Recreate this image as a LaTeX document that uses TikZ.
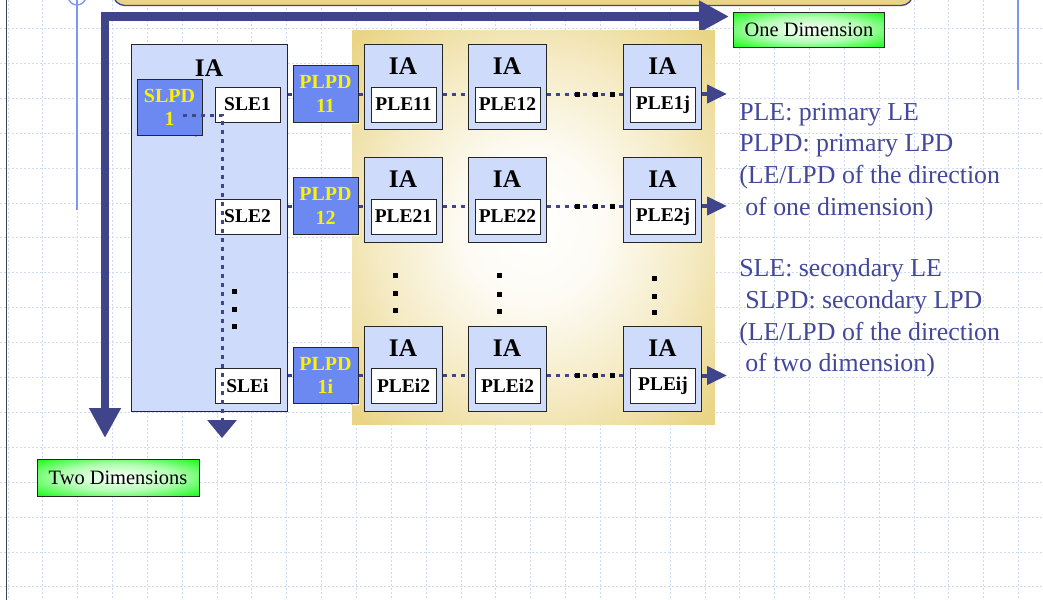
\documentclass[tikz,border=0pt]{standalone}
\usepackage{fontspec}
\setmainfont{Liberation Serif}
\usetikzlibrary{arrows.meta,calc}
\definecolor{lblue}{RGB}{206,219,250}
\definecolor{notefill}{RGB}{108,137,242}
\definecolor{notefold}{RGB}{150,172,246}
\definecolor{darkb}{RGB}{64,68,138}
\definecolor{tanc}{RGB}{234,213,134}
\definecolor{txtb}{RGB}{68,72,155}
\definecolor{gridc}{RGB}{205,218,248}
\definecolor{deco}{RGB}{125,150,240}
\definecolor{greenc}{RGB}{0,250,0}
\pgfdeclareradialshading{tanglow}{\pgfpoint{0bp}{0bp}}{color(0bp)=(white); color(10bp)=(white!90!tanc); color(22bp)=(white!50!tanc); color(34bp)=(tanc); color(50bp)=(tanc)}
\pgfdeclareradialshading{greenglow}{\pgfpoint{0bp}{0bp}}{color(0bp)=(white); color(18bp)=(white!70!greenc); color(38bp)=(greenc); color(50bp)=(greenc)}
\begin{document}
\begin{tikzpicture}[x=0.75pt,y=-0.75pt,
  box/.style={rectangle, draw=black!85, line width=0.75pt, inner sep=0pt},
  iabox/.style={box, fill=lblue, minimum width=58.5pt, minimum height=63.75pt},
  leaf/.style={box, fill=white, minimum width=48.75pt, minimum height=26.25pt, font=\bfseries\fontsize{14.6}{16}\selectfont},
  ialabel/.style={inner sep=0pt, font=\bfseries\fontsize{19}{21}\selectfont},
  note/.style={box, fill=notefill, text=yellow, align=center, minimum width=48.75pt, minimum height=42.5pt,
    font=\bfseries\fontsize{15}{17.5}\selectfont,
    append after command={\pgfextra{\begin{pgfinterruptpath}
      \fill[#1] ([xshift=0.7pt,yshift=5.6pt]\tikzlastnode.south east) -- ([xshift=0.7pt,yshift=-0.7pt]\tikzlastnode.south east) -- ([xshift=-5.6pt,yshift=-0.7pt]\tikzlastnode.south east) -- cycle;
      \filldraw[fill=notefold, draw=black!85, line width=0.6pt, line join=round] ([yshift=5pt]\tikzlastnode.south east) -- ([xshift=-5pt]\tikzlastnode.south east) -- ([xshift=-3.6pt,yshift=3.6pt]\tikzlastnode.south east) -- cycle;
    \end{pgfinterruptpath}}}},
  greenbox/.style={box, shade, shading=greenglow, font=\fontsize{15.3}{17}\selectfont},
  dotline/.style={draw=darkb, line width=2.25pt, dash pattern=on 3pt off 3.75pt},
  sidetext/.style={anchor=base west, inner sep=0pt, text=txtb, font=\fontsize{19.4}{23}\selectfont},
  gridline/.style={draw=gridc, line width=0.75pt, dash pattern=on 1.5pt off 1.5pt}
]
\useasboundingbox (0,0) rectangle (1043,600);
\clip (0,0) rectangle (1043,600);
\fill[white] (0,0) rectangle (1043,600);
% background grid
\foreach \k in {0,...,29} \draw[gridline] ({8+34.85*\k},0) -- ({8+34.85*\k},600);
\foreach \k in {0,...,16} \draw[gridline] (0,{28.5+34.9*\k}) -- (1043,{28.5+34.9*\k});
% decorations
\draw[black!75, line width=1.3pt] (6.5,0) -- (6.5,600);
\draw[deco, line width=1.3pt] (77,0) -- (77,210);
\draw[deco, line width=1pt] (77,-4) circle[radius=9];
\draw[deco, line width=2pt] (1018,0) -- (1018,90);
\draw[fill=tanc, draw=darkb, line width=1pt, rounded corners=9pt] (113,-30) rectangle (913,5.5);
% thick L arrow
\coordinate (ltip) at (105,438);
\coordinate (lcorner) at (105,16.5);
\coordinate (rtip) at (729,16.5);
\draw[darkb, line width=6.5pt, line join=miter, {Triangle[length=22.5pt,width=22.5pt]}-{Triangle[length=22.5pt,width=22.5pt]}] (ltip) -- (lcorner) -- (rtip);
\node[greenbox, minimum width=113.25pt, minimum height=26.25pt] (oned) at (809,29.5) {One Dimension};
\node[greenbox, minimum width=121.5pt, minimum height=27.75pt] (twod) at (118,477.5) {Two Dimensions};
% tan region
\shade[shading=tanglow] (352,30) rectangle (715,424);
% big IA
\node[box, fill=lblue, minimum width=117pt, minimum height=275.25pt] (bigia) at (209,227.5) {};
\node[ialabel] (bigial) at (209,68) {IA};
\node[note=lblue] (slpd) at (169.5,107.5) {SLPD\\1};
\node[leaf] (sle1) at (247.5,104.5) {SLE1};
\node[leaf] (sle2) at (247.5,216.5) {SLE2};
\node[leaf] (slei) at (247.5,386) {SLEi};
% PLPD notes
\node[note=white] (plpd11) at (325.5,94) {PLPD\\11};
\node[note=white] (plpd12) at (325.5,206) {PLPD\\12};
\node[note=white] (plpd1i) at (325.5,375.5) {PLPD\\1i};
% small IA boxes
\foreach \r/\ry in {1/86.5, 2/199.5, i/368.5}{
  \foreach \c/\cx in {1/403, 2/507, j/662.5}{
    \node[iabox] (ia\r\c) at (\cx,\ry) {};
    \node[ialabel] (ia\r\c l) at ([yshift=-17.25pt]ia\r\c.north) {IA};
  }
}
\node[leaf] (ple11) at (403.5,104.5) {PLE11};
\node[leaf] (ple12) at (507.5,104.5) {PLE12};
\node[leaf] (ple1j) at (663,104.5) {PLE1j};
\node[leaf] (ple21) at (403.5,216.5) {PLE21};
\node[leaf] (ple22) at (507.5,216.5) {PLE22};
\node[leaf] (ple2j) at (663,216.5) {PLE2j};
\node[leaf] (plei1) at (403.5,386) {PLEi2};
\node[leaf] (plei2) at (507.5,386) {PLEi2};
\node[leaf] (pleij) at (663,386) {PLEij};
% connectors per row
\foreach \r/\p in {1/plpd11, 2/plpd12, i/plpd1i}{
  \draw[dotline] (\p.west -| bigia.east) -- (\p.west);
  \draw[dotline] (\p.east) -- (\p.east -| ia\r1.west);
  \draw[dotline] (\p.east -| ia\r1.east) -- (\p.east -| ia\r2.west);
  \draw[dotline] (\p.east -| ia\r2.east) -- (\p.east -| ia\r j.west);
  \coordinate (out\r) at ($(\p.east -| ia\r j.east)+(25,0)$);
  \draw[darkb, line width=3pt, -{Triangle[length=15pt,width=13.5pt]}] (\p.east -| ia\r j.east) -- (out\r);
  \foreach \x in {577,595,612} \fill[black] ($(\x,0 |- \p.east)+(-2.5,-2.5)$) rectangle ++(5,5);
}
% secondary dotted arrow
\coordinate (sdstart) at (183,115);
\coordinate (sdcorner) at (222,115);
\coordinate (sdend) at (222,438);
\draw[dotline, -{Triangle[length=13.5pt,width=21.75pt]}] (sdstart) -- (sdcorner) -- (sdend);
% vertical ellipsis dots
\foreach \x/\y in {234/291, 234/309, 234/326, 395/275, 395/293, 395/310, 499/275, 499/294, 499/311, 654/278, 654/296, 654/312}
  \fill[black] (\x-2.5,\y-2.5) rectangle ++(5,5);
% side text
\node[sidetext] (t1) at (739,120) {PLE: primary LE};
\node[sidetext] (t2) at (739,151.7) {PLPD: primary LPD};
\node[sidetext] (t3) at (739,183.4) {(LE/LPD of the direction};
\node[sidetext] (t4) at (745,215) {of one dimension)};
\node[sidetext] (t5) at (739,276.7) {SLE: secondary LE};
\node[sidetext] (t6) at (745,308.4) {SLPD: secondary LPD};
\node[sidetext] (t7) at (739,340) {(LE/LPD of the direction};
\node[sidetext] (t8) at (745,371.7) {of two dimension)};
\end{tikzpicture}
\end{document}
